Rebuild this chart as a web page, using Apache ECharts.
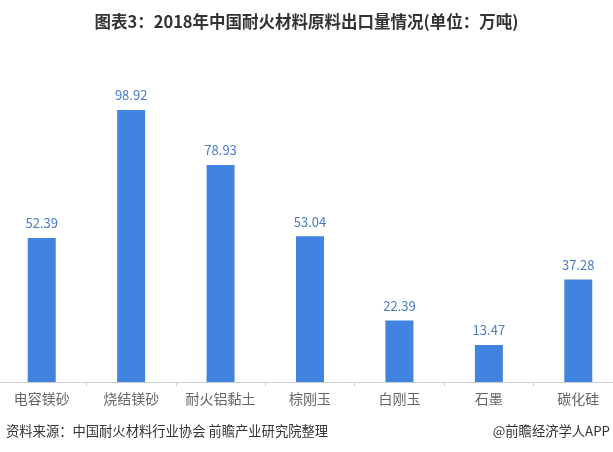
<!DOCTYPE html>
<html><head><meta charset="utf-8">
<script src="https://cdn.jsdelivr.net/npm/echarts@6/dist/echarts.min.js"></script>
<style>html,body{margin:0;padding:0;background:#fff}#c{width:613px;height:452px}</style>
</head><body><div id="c"></div>
<script>
const categories = ['电容镁砂','烧结镁砂','耐火铝黏土','棕刚玉','白刚玉','石墨','碳化硅'];
const values = [52.39, 98.92, 78.93, 53.04, 22.39, 13.47, 37.28];
const titleText = '图表3：2018年中国耐火材料原料出口量情况(单位：万吨)';
const sourceText = '资料来源：中国耐火材料行业协会 前瞻产业研究院整理';
const brandText = '@前瞻经济学人APP';

const chart = echarts.init(document.getElementById('c'));
chart.setOption({
  backgroundColor: '#fff',
  animation: false,
  title: {
    text: titleText, left: 'center', top: 8,
    textStyle: {fontFamily: 'Noto Sans CJK SC', fontSize: 16.5, fontWeight: 'bold', color: '#333'}
  },
  graphic: [
    {type: 'text', left: 6, top: 424, style: {text: sourceText, font: '13.3px "Noto Sans CJK SC"', fill: '#333'}},
    {type: 'text', right: 3, top: 424, style: {text: brandText, font: '13.3px "Noto Sans CJK SC"', fill: '#333'}}
  ],
  grid: {left: -3, width: 626, top: 52, bottom: 70, containLabel: false, outerBoundsMode: 'none'},
  xAxis: {
    type: 'category', data: categories,
    axisLine: {lineStyle: {color: '#ccc'}},
    axisTick: {show: true, length: 4, lineStyle: {color: '#ccc'}},
    axisLabel: {color: '#666', fontSize: 14, margin: 10, fontFamily: 'Noto Sans CJK SC', interval: 0, hideOverlap: false}
  },
  yAxis: {type: 'value', min: 0, max: 120, show: false, splitLine: {show: false}},
  series: [{
    type: 'bar', data: values, barWidth: 28,
    itemStyle: {color: '#4184e0'},
    label: {show: true, position: 'top', distance: 8, color: '#4a7cc8', fontSize: 13, fontFamily: 'Noto Sans CJK SC',
      formatter: p => p.value.toFixed(2)}
  }]
});
</script></body></html>
